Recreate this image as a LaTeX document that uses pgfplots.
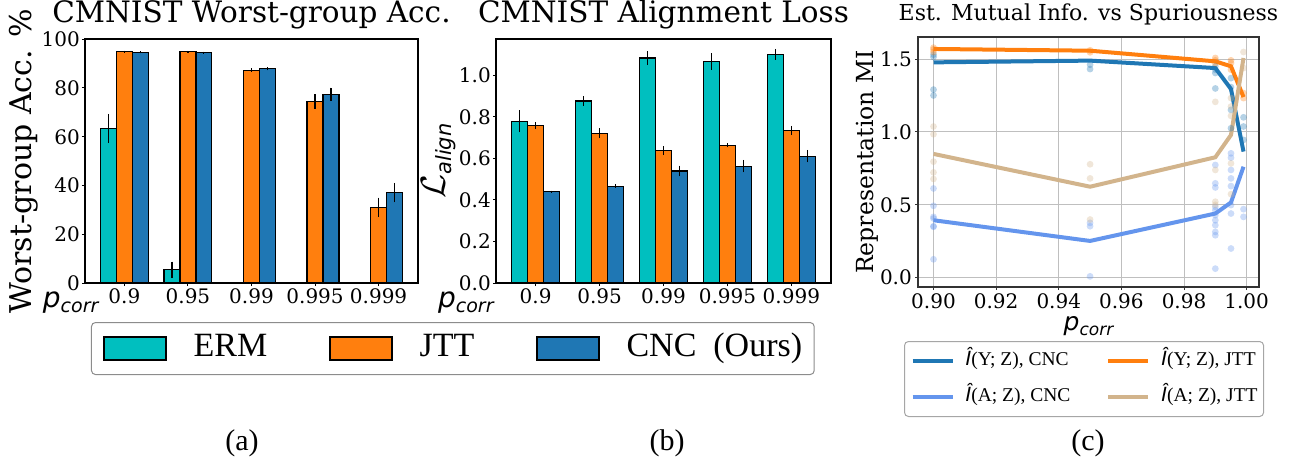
\documentclass[border=0pt]{standalone}
\usepackage{graphicx}
\usepackage{fontspec}
\setmainfont{DejaVu Serif}
\newfontfamily\dvsans{DejaVu Sans}
\newfontfamily\libser{Liberation Serif}
\usepackage{pgfplots}
\pgfplotsset{compat=1.18}
\definecolor{ermc}{HTML}{00BFBF}
\definecolor{jttc}{HTML}{FF7F0E}
\definecolor{cncc}{HTML}{1F77B4}
\definecolor{cornf}{HTML}{6495ED}
\definecolor{tanc}{HTML}{D2B48C}
\newcommand{\pcorr}[2]{{\dvsans\itshape\fontsize{#1}{#1}\selectfont p\raisebox{-0.17em}{\fontsize{#2}{#2}\selectfont corr}}}
\pgfplotsset{
  barax/.style={
    scale only axis, anchor=south west,
    xmin=-0.62, xmax=4.62, ymin=0,
    xtick={0,1,2,3,4}, xticklabels={0.9,0.95,0.99,0.995,0.999},
    tick align=outside, major tick length=3pt,
    tick style={black, line width=1pt},
    xtick pos=bottom, ytick pos=left,
    axis line style={line width=1.6pt},
    ticklabel style={font=\fontsize{20}{20}\selectfont},
    yticklabel style={inner sep=0pt, xshift=-2pt},
    xticklabel style={inner sep=0pt, yshift=-2pt},
    title style={font=\fontsize{29.5}{29.5}\selectfont, at={(0.5,1)}, anchor=base, yshift=11pt, inner sep=0pt},
    error bars/y dir=both, error bars/y explicit,
    error bars/error mark=none,
    error bars/error bar style={black, line width=1.3pt},
  },
  bars/.style={ybar, bar width=0.25, bar shift=0, draw=black, line width=1.3pt, fill=#1},
  sc/.style={only marks, mark=*, mark size=3.4pt, forget plot, mark options={draw opacity=0, fill=#1, fill opacity=0.33}},
}
\begin{document}
\begin{tikzpicture}
% ---------- (a)
\begin{axis}[barax, at={(85pt,176pt)}, width=333pt, height=244pt,
  ymax=100.1, ytick={0,20,40,60,80,100}, yticklabels={0,20,40,60,80,100},
  title={CMNIST Worst-group Acc.},
  ylabel={\fontsize{30}{30}\selectfont Worst-group Acc. \%},
  ylabel style={at={(axis description cs:-0.183,0.5)}, anchor=center, rotate=0, inner sep=0pt},
  xlabel={\pcorr{28}{19}},
  xlabel style={at={(axis description cs:-0.043,-0.102)}, anchor=base, inner sep=0pt},
  legend columns=3,
  legend style={at={(axis description cs:0.018,-0.160)}, anchor=north west,
    draw=black!45, rounded corners=4pt, line width=1pt, inner xsep=12pt, inner ysep=10pt,
    font=\libser\fontsize{34}{34}\selectfont,
    nodes={inner sep=0pt, text height=24pt, text depth=8pt},
    /tikz/every odd column/.append style={column sep=27pt},
    /tikz/every even column/.append style={column sep=62pt}},
  legend image code/.code={\draw[#1, sharp corners, line width=1.2pt] (0pt,-11.5pt) rectangle (62pt,11.5pt);},
]
\addplot[bars=ermc] coordinates {(-0.25,63.4) +- (0,6.0) (0.75,5.4) +- (0,3.4)};
\addlegendentry{ERM}
\addplot[bars=jttc] coordinates {(0,94.9) +- (0,0.4) (1,94.9) +- (0,0.3) (2,87.3) +- (0,0.7) (3,74.4) +- (0,3.0) (4,31.0) +- (0,4.0)};
\addlegendentry{JTT}
\addplot[bars=cncc] coordinates {(0.25,94.6) +- (0,0.4) (1.25,94.5) +- (0,0.4) (2.25,87.9) +- (0,0.7) (3.25,77.4) +- (0,2.8) (4.25,37.1) +- (0,4.0)};
\addlegendentry{CNC\hspace{0.5em}(Ours)\hspace{12pt}}
\end{axis}
% ---------- (b)
\begin{axis}[barax, at={(496pt,176pt)}, width=335pt, height=244pt,
  ymax=1.174, ytick={0,0.2,0.4,0.6,0.8,1.0}, yticklabels={0.0,0.2,0.4,0.6,0.8,1.0},
  title={CMNIST Alignment Loss},
  ylabel={{\fontsize{24}{24}\selectfont\scalebox{1.4}{$\mathcal{L}$}}{\dvsans\itshape\fontsize{21}{21}\selectfont\raisebox{-0.3em}{align}}},
  ylabel style={at={(axis description cs:-0.172,0.5)}, anchor=center, rotate=0, inner sep=0pt},
  xlabel={\pcorr{28}{19}},
  xlabel style={at={(axis description cs:-0.090,-0.102)}, anchor=base, inner sep=0pt},
]
\addplot[bars=ermc] coordinates {(-0.25,0.778) +- (0,0.053) (0.75,0.875) +- (0,0.024) (1.75,1.082) +- (0,0.034) (2.75,1.066) +- (0,0.040) (3.75,1.100) +- (0,0.027)};
\addplot[bars=jttc] coordinates {(0,0.758) +- (0,0.015) (1,0.720) +- (0,0.024) (2,0.637) +- (0,0.022) (3,0.662) +- (0,0.010) (4,0.734) +- (0,0.022)};
\addplot[bars=cncc] coordinates {(0.25,0.440) +- (0,0.005) (1.25,0.466) +- (0,0.010) (2.25,0.539) +- (0,0.026) (3.25,0.562) +- (0,0.030) (4.25,0.610) +- (0,0.030)};
\end{axis}
% ---------- (c)
\begin{axis}[scale only axis, anchor=south west, at={(918pt,172pt)}, width=341pt, height=250pt,
  xmin=0.89505, xmax=1.00395, ymin=-0.064, ymax=1.651,
  xtick={0.90,0.92,0.94,0.96,0.98,1.00}, xticklabels={0.90,0.92,0.94,0.96,0.98,1.00},
  ytick={0,0.5,1.0,1.5}, yticklabels={0.0,0.5,1.0,1.5},
  grid=major, grid style={black!25, line width=0.9pt},
  tick align=outside, major tick length=3pt, tick style={black!80, line width=1pt},
  xtick pos=bottom, ytick pos=left,
  axis line style={line width=1.6pt, black!80},
  ticklabel style={font=\fontsize{20}{20}\selectfont},
  yticklabel style={inner sep=0pt, xshift=-3pt},
  xticklabel style={inner sep=0pt, yshift=-3pt},
  title={Est. Mutual Info. vs Spuriousness},
  title style={font=\fontsize{22}{22}\selectfont, at={(0.5,1)}, anchor=base, yshift=10pt, inner sep=0pt},
  ylabel={\fontsize{23.5}{23.5}\selectfont Representation MI},
  ylabel style={at={(axis description cs:-0.150,0.5)}, anchor=center, rotate=0, inner sep=0pt},
  xlabel={\pcorr{25}{17}},
  xlabel style={at={(axis description cs:0.5,-0.175)}, anchor=base, inner sep=0pt},
  legend columns=2,
  legend cell align=left,
  legend style={at={(axis description cs:-0.041,-0.216)}, anchor=north west,
    draw=black!35, rounded corners=4pt, line width=1pt, inner xsep=6pt, inner ysep=10pt,
    font=\libser\fontsize{19.5}{19.5}\selectfont, row sep=17pt,
    nodes={inner sep=0pt, text height=14pt, text depth=5pt},
    /tikz/every odd column/.append style={column sep=11pt},
    /tikz/every even column/.append style={column sep=36pt}},
  legend image code/.code={\draw[#1, sharp corners] (0pt,0pt) -- (40pt,0pt);},
]
% scatter points
\addplot[sc=cncc] coordinates {(0.9,1.53) (0.9,1.514) (0.9,1.29) (0.9,1.25) (0.95,1.461) (0.95,1.431) (0.99,1.45) (0.99,1.427) (0.99,1.404) (0.99,1.298) (0.995,1.369) (0.995,1.307) (0.995,1.151) (0.995,1.025) (0.999,1.10) (0.999,1.037) (0.999,0.945)};
\addplot[sc=jttc] coordinates {(0.9,1.578) (0.9,1.566) (0.9,1.548) (0.95,1.56) (0.95,1.546) (0.99,1.507) (0.99,1.491) (0.99,1.472) (0.995,1.491) (0.995,1.472) (0.995,1.427) (0.999,1.266) (0.999,1.232)};
\addplot[sc=cornf] coordinates {(0.9,0.612) (0.9,0.493) (0.9,0.417) (0.9,0.406) (0.9,0.353) (0.9,0.349) (0.9,0.126) (0.95,0.376) (0.95,0.353) (0.95,0.009) (0.99,0.773) (0.99,0.647) (0.99,0.619) (0.99,0.486) (0.99,0.463) (0.99,0.429) (0.99,0.394) (0.99,0.36) (0.99,0.314) (0.99,0.291) (0.99,0.062) (0.995,0.853) (0.995,0.823) (0.995,0.739) (0.995,0.681) (0.995,0.628) (0.995,0.498) (0.995,0.44) (0.995,0.2) (0.999,0.47) (0.999,0.417)};
\addplot[sc=tanc] coordinates {(0.9,1.037) (0.9,0.984) (0.9,0.796) (0.9,0.722) (0.9,0.677) (0.95,0.778) (0.95,0.681) (0.95,0.399) (0.99,1.206) (0.99,0.739) (0.99,0.521) (0.99,0.50) (0.995,1.232) (0.995,1.174) (0.995,1.11) (0.995,0.784) (0.995,0.573) (0.999,1.548) (0.999,1.438)};
% mean lines
\addplot[cncc, line width=4pt, forget plot] coordinates {(0.9,1.477) (0.95,1.489) (0.99,1.438) (0.995,1.294) (0.999,0.865)};
\addplot[cornf, line width=4pt, forget plot] coordinates {(0.9,0.394) (0.95,0.252) (0.99,0.440) (0.995,0.516) (0.999,0.761)};
\addplot[jttc, line width=4pt, forget plot] coordinates {(0.9,1.569) (0.95,1.557) (0.99,1.484) (0.995,1.45) (0.999,1.239)};
\addplot[tanc, line width=4pt, forget plot] coordinates {(0.9,0.849) (0.95,0.624) (0.99,0.826) (0.995,0.979) (0.999,1.507)};
\addlegendimage{cncc, line width=4pt}
\addlegendentry{{\dvsans\itshape Î}(Y; Z), CNC}
\addlegendimage{jttc, line width=4pt}
\addlegendentry{{\dvsans\itshape Î}(Y; Z), JTT\hspace{5pt}}
\addlegendimage{cornf, line width=4pt}
\addlegendentry{{\dvsans\itshape Î}(A; Z), CNC}
\addlegendimage{tanc, line width=4pt}
\addlegendentry{{\dvsans\itshape Î}(A; Z), JTT\hspace{5pt}}
\end{axis}
% captions
\node[font=\libser\fontsize{30}{30}\selectfont, inner sep=0pt] at (242pt,16pt) {(a)};
\node[font=\libser\fontsize{30}{30}\selectfont, inner sep=0pt] at (667pt,16pt) {(b)};
\node[font=\libser\fontsize{30}{30}\selectfont, inner sep=0pt] at (1088pt,16pt) {(c)};
\pgfresetboundingbox
\path[use as bounding box] (0,0) rectangle (1311pt,459pt);
\end{tikzpicture}
\end{document}
